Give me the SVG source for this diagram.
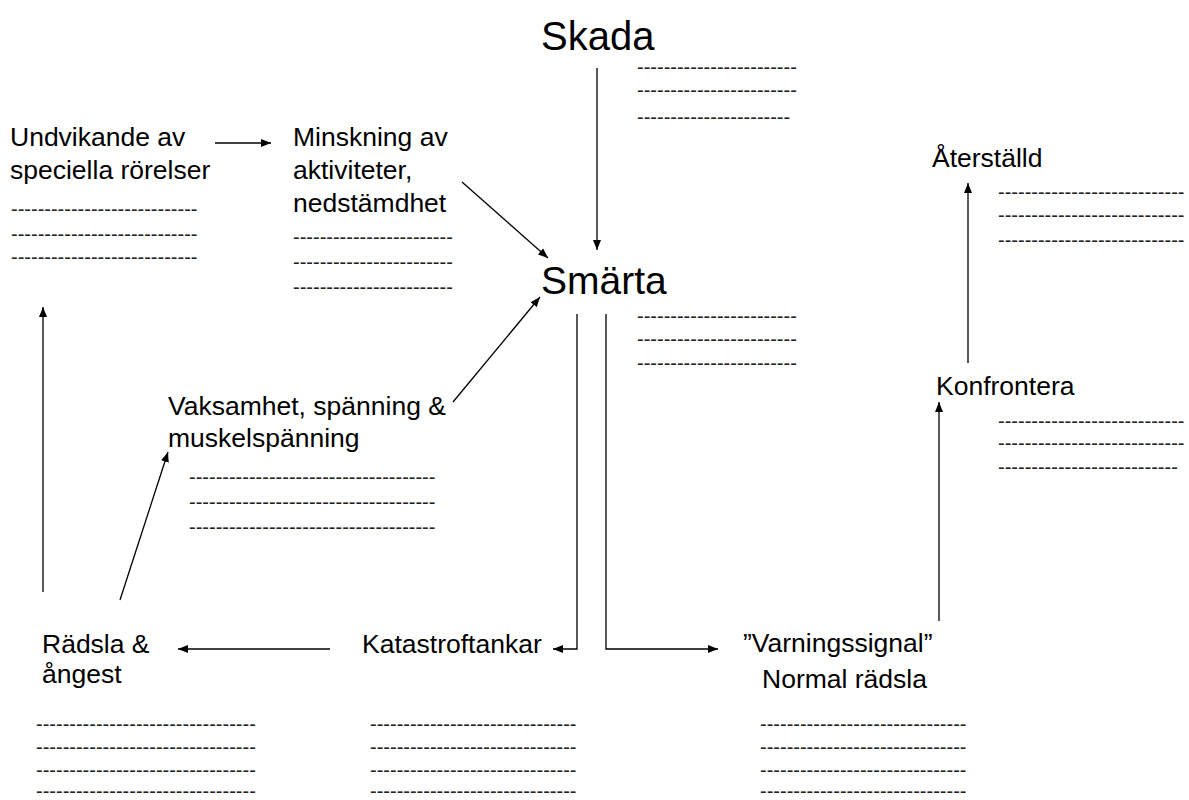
<svg xmlns="http://www.w3.org/2000/svg" width="1189" height="800" viewBox="0 0 1189 800">
<style>
.lbl{font-family:"Liberation Sans",Arial,sans-serif;font-size:26.5px;fill:#000}
.big{font-family:"Liberation Sans",Arial,sans-serif;font-size:39px;fill:#000}
.dash{font-family:"Liberation Sans",Arial,sans-serif;font-size:20px;fill:#222}
.con{stroke:#000;stroke-width:1.3;fill:none}
</style>
<defs>
<marker id="ah" viewBox="0 0 10 10" refX="10" refY="5" markerWidth="10" markerHeight="10" markerUnits="userSpaceOnUse" orient="auto">
<path d="M0,1 L10,5 L0,9 z" fill="#000"/>
</marker>
</defs>
<rect width="1189" height="800" fill="#fff"/>
<g id="connectors">
<line class="con" x1="597" y1="68" x2="597" y2="250" marker-end="url(#ah)"/>
<line class="con" x1="215" y1="143" x2="271" y2="143" marker-end="url(#ah)"/>
<line class="con" x1="462" y1="182" x2="548" y2="258" marker-end="url(#ah)"/>
<line class="con" x1="453" y1="402" x2="540" y2="297" marker-end="url(#ah)"/>
<polyline class="con" points="577,314 577,649 553,649" marker-end="url(#ah)"/>
<polyline class="con" points="606,314 606,649 718,649" marker-end="url(#ah)"/>
<line class="con" x1="330" y1="649" x2="178" y2="649" marker-end="url(#ah)"/>
<line class="con" x1="43" y1="592" x2="43" y2="307" marker-end="url(#ah)"/>
<line class="con" x1="120" y1="600" x2="168" y2="452" marker-end="url(#ah)"/>
<line class="con" x1="939" y1="621" x2="939" y2="402" marker-end="url(#ah)"/>
<line class="con" x1="968" y1="363" x2="968" y2="183" marker-end="url(#ah)"/>
</g>
<g id="skada">
<text class="big" x="541" y="50" style="font-size:40px">Skada</text>
<text class="dash" x="637" y="74">------------------------</text>
<text class="dash" x="637" y="97">------------------------</text>
<text class="dash" x="637" y="124">-----------------------</text>
</g>
<g id="smarta">
<text class="big" x="541" y="294">Smärta</text>
<text class="dash" x="637" y="323">------------------------</text>
<text class="dash" x="637" y="346">------------------------</text>
<text class="dash" x="637" y="370">------------------------</text>
</g>
<g id="undvikande">
<text class="lbl" x="10" y="146">Undvikande av</text>
<text class="lbl" x="10" y="179">speciella rörelser</text>
<text class="dash" x="11" y="216">----------------------------</text>
<text class="dash" x="11" y="241">----------------------------</text>
<text class="dash" x="11" y="264">----------------------------</text>
</g>
<g id="minskning">
<text class="lbl" x="293" y="146">Minskning av</text>
<text class="lbl" x="293" y="179">aktiviteter,</text>
<text class="lbl" x="293" y="212">nedstämdhet</text>
<text class="dash" x="293" y="244">------------------------</text>
<text class="dash" x="293" y="269">------------------------</text>
<text class="dash" x="293" y="294">------------------------</text>
</g>
<g id="vaksamhet">
<text class="lbl" x="168" y="415">Vaksamhet, spänning &amp;</text>
<text class="lbl" x="168" y="447">muskelspänning</text>
<text class="dash" x="189" y="484">-------------------------------------</text>
<text class="dash" x="189" y="509">-------------------------------------</text>
<text class="dash" x="189" y="534">-------------------------------------</text>
</g>
<g id="radsla">
<text class="lbl" x="42" y="653">Rädsla &amp;</text>
<text class="lbl" x="42" y="683">ångest</text>
<text class="dash" x="36" y="731">---------------------------------</text>
<text class="dash" x="36" y="754">---------------------------------</text>
<text class="dash" x="36" y="777">---------------------------------</text>
<text class="dash" x="36" y="798">---------------------------------</text>
</g>
<g id="katastroftankar">
<text class="lbl" x="362" y="653">Katastroftankar</text>
<text class="dash" x="370" y="731">-------------------------------</text>
<text class="dash" x="370" y="754">-------------------------------</text>
<text class="dash" x="370" y="777">-------------------------------</text>
<text class="dash" x="370" y="798">-------------------------------</text>
</g>
<g id="varningssignal">
<text class="lbl" x="743" y="652">”Varningssignal”</text>
<text class="lbl" x="762" y="688">Normal rädsla</text>
<text class="dash" x="760" y="731">-------------------------------</text>
<text class="dash" x="760" y="754">-------------------------------</text>
<text class="dash" x="760" y="777">-------------------------------</text>
<text class="dash" x="760" y="798">-------------------------------</text>
</g>
<g id="konfrontera">
<text class="lbl" x="936" y="395">Konfrontera</text>
<text class="dash" x="998" y="428">----------------------------</text>
<text class="dash" x="998" y="450">----------------------------</text>
<text class="dash" x="998" y="474">---------------------------</text>
</g>
<g id="aterstalld">
<text class="lbl" x="932" y="167">Återställd</text>
<text class="dash" x="998" y="199">----------------------------</text>
<text class="dash" x="998" y="222">----------------------------</text>
<text class="dash" x="998" y="247">----------------------------</text>
</g>
</svg>
